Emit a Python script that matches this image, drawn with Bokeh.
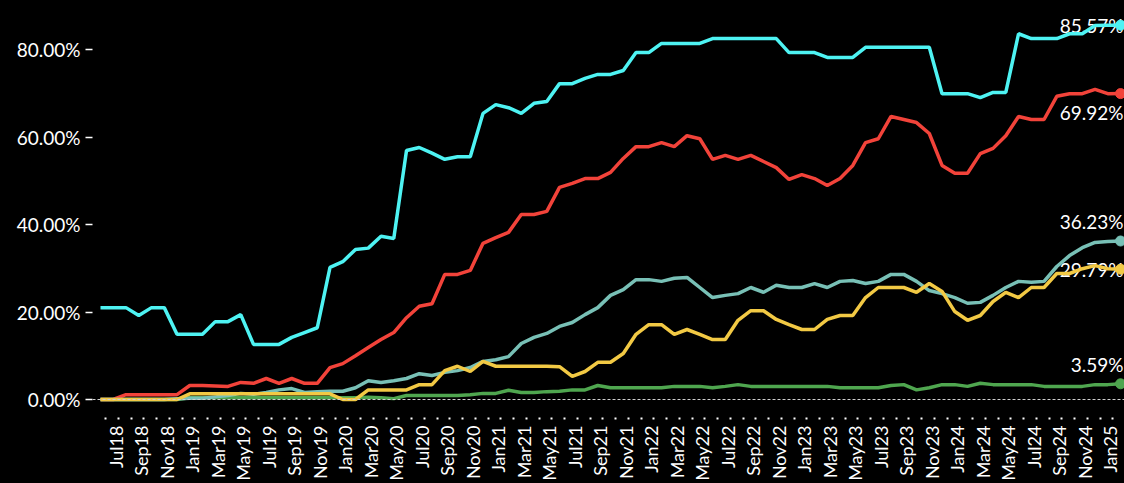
from math import pi
from bokeh.plotting import figure
from bokeh.models import (ColumnDataSource, FixedTicker, PrintfTickFormatter,
                          CustomJSTickFormatter, Span, Range1d)
from bokeh.core.properties import value
from bokeh.embed import file_html
from bokeh.resources import INLINE

months = [
    "Jul18", "Aug18", "Sep18", "Oct18", "Nov18", "Dec18",
    "Jan19", "Feb19", "Mar19", "Apr19", "May19", "Jun19", "Jul19", "Aug19", "Sep19", "Oct19", "Nov19", "Dec19",
    "Jan20", "Feb20", "Mar20", "Apr20", "May20", "Jun20", "Jul20", "Aug20", "Sep20", "Oct20", "Nov20", "Dec20",
    "Jan21", "Feb21", "Mar21", "Apr21", "May21", "Jun21", "Jul21", "Aug21", "Sep21", "Oct21", "Nov21", "Dec21",
    "Jan22", "Feb22", "Mar22", "Apr22", "May22", "Jun22", "Jul22", "Aug22", "Sep22", "Oct22", "Nov22", "Dec22",
    "Jan23", "Feb23", "Mar23", "Apr23", "May23", "Jun23", "Jul23", "Aug23", "Sep23", "Oct23", "Nov23", "Dec23",
    "Jan24", "Feb24", "Mar24", "Apr24", "May24", "Jun24", "Jul24", "Aug24", "Sep24", "Oct24", "Nov24", "Dec24",
    "Jan25", "Feb25", "Mar25",
]

cyan = [
    21.0, 21.0, 21.0, 19.2, 21.0, 21.0,
    14.9, 14.9, 14.9, 17.8, 17.8, 19.4, 12.6, 12.6, 12.6, 14.2, 15.3, 16.4,
    30.2, 31.5, 34.3, 34.6, 37.3, 36.8, 56.9, 57.6, 56.3, 54.9, 55.5, 55.5,
    65.4, 67.4, 66.7, 65.4, 67.7, 68.1, 72.2, 72.2, 73.4, 74.3, 74.3, 75.2,
    79.3, 79.3, 81.4, 81.4, 81.4, 81.4, 82.5, 82.5, 82.5, 82.5, 82.5, 82.5,
    79.3, 79.3, 79.3, 78.2, 78.2, 78.2, 80.5, 80.5, 80.5, 80.5, 80.5, 80.5,
    69.9, 69.9, 69.9, 69.0, 70.2, 70.2, 83.6, 82.5, 82.5, 82.5, 83.6, 83.6,
    85.5, 85.57, 85.57,
]
red = [
    0.0, 0.0, 1.1, 1.1, 1.1, 1.1,
    1.1, 3.2, 3.2, 3.1, 3.0, 3.9, 3.7, 4.8, 3.7, 4.8, 3.7, 3.7,
    7.3, 8.2, 10.0, 11.9, 13.7, 15.3, 18.7, 21.3, 21.9, 28.6, 28.6, 29.5,
    35.7, 37.0, 38.2, 42.3, 42.3, 43.0, 48.5, 49.4, 50.5, 50.5, 51.9, 55.1,
    57.8, 57.8, 58.7, 57.8, 60.3, 59.6, 54.9, 55.8, 54.9, 55.8, 54.4, 53.0,
    50.3, 51.4, 50.5, 48.9, 50.5, 53.5, 58.7, 59.6, 64.7, 64.0, 63.3, 60.8,
    53.5, 51.7, 51.7, 56.2, 57.4, 60.3, 64.7, 64.0, 64.0, 69.3, 69.9, 69.9,
    70.9, 69.9, 69.92,
]
teal = [
    0.0, 0.0, 0.0, 0.0, 0.0, 0.0,
    0.2, 0.3, 0.3, 0.6, 0.9, 1.4, 1.2, 1.6, 2.2, 2.5, 1.6, 1.8,
    1.9, 1.9, 2.7, 4.3, 3.9, 4.3, 4.8, 5.9, 5.5, 6.2, 6.6, 7.3,
    8.7, 9.1, 9.8, 12.8, 14.2, 15.1, 16.7, 17.6, 19.4, 21.0, 23.8, 25.1,
    27.4, 27.4, 27.0, 27.7, 27.9, 25.6, 23.3, 23.8, 24.2, 25.6, 24.5, 26.1,
    25.6, 25.6, 26.5, 25.6, 27.0, 27.2, 26.5, 27.0, 28.6, 28.6, 27.0, 24.9,
    24.2, 23.3, 22.0, 22.2, 23.8, 25.6, 27.0, 26.8, 27.0, 30.4, 32.9, 34.7,
    35.9, 36.1, 36.23,
]
yellow = [
    0.0, 0.0, 0.0, 0.0, 0.0, 0.0,
    0.0, 1.3, 1.3, 1.3, 1.3, 1.3, 1.3, 1.3, 1.3, 1.3, 1.3, 1.3,
    1.3, 0.0, 0.0, 2.2, 2.2, 2.2, 2.2, 3.4, 3.4, 6.6, 7.6, 6.4,
    8.7, 7.6, 7.6, 7.6, 7.6, 7.6, 7.5, 5.3, 6.4, 8.5, 8.5, 10.5,
    14.9, 17.1, 17.1, 14.9, 16.0, 14.9, 13.7, 13.7, 18.1, 20.3, 20.3, 18.3,
    17.1, 16.0, 16.0, 18.3, 19.2, 19.2, 23.3, 25.6, 25.6, 25.6, 24.5, 26.5,
    24.7, 20.1, 18.1, 19.2, 22.4, 24.5, 23.3, 25.6, 25.6, 28.8, 28.8, 29.9,
    30.6, 29.9, 29.79,
]
green = [
    0.0, 0.0, 0.0, 0.0, 0.0, 0.0,
    0.0, 0.4, 0.4, 0.4, 0.4, 0.4, 0.4, 0.4, 0.4, 0.4, 0.4, 0.4,
    0.4, 0.4, 0.4, 0.5, 0.4, 0.2, 0.9, 0.9, 0.9, 0.9, 0.9, 1.1,
    1.4, 1.4, 2.1, 1.6, 1.6, 1.8, 1.9, 2.2, 2.2, 3.2, 2.7, 2.7,
    2.7, 2.7, 2.7, 3.0, 3.0, 3.0, 2.7, 3.0, 3.4, 3.0, 3.0, 3.0,
    3.0, 3.0, 3.0, 3.0, 2.7, 2.7, 2.7, 2.7, 3.2, 3.4, 2.2, 2.7,
    3.4, 3.4, 3.0, 3.7, 3.4, 3.4, 3.4, 3.4, 3.0, 3.0, 3.0, 3.0,
    3.4, 3.4, 3.59,
]

y_ticks = [0, 20, 40, 60, 80]

# drawing order bottom -> top
series = [
    ("green", green, "#4fa64f"),
    ("red", red, "#f2433a"),
    ("teal", teal, "#78c0b6"),
    ("yellow", yellow, "#f2c944"),
    ("cyan", cyan, "#4ef3f3"),
]
# label vertical nudges (px, positive = down)
label_nudge = {"cyan": 0, "red": 19, "teal": -19, "yellow": 0, "green": -19}

FONT = "Lato"
FS = "19px"
LABEL_OFF = 1.18   # label tick offset (months)
DOT_OFF = 0.4      # tick-dot offset (months)

x_idx = list(range(len(months)))

p = figure(width=1124, height=483, output_backend="svg", toolbar_location=None,
           x_range=Range1d(-0.627, 80.31), y_range=Range1d(-4.114, 91.2),
           min_border_left=92, min_border_right=0, min_border_top=0, min_border_bottom=66,
           background_fill_color="black", border_fill_color="black",
           outline_line_color=None)
p.grid.visible = False

# y axis
yax = p.yaxis[0]
yax.ticker = FixedTicker(ticks=y_ticks)
yax.formatter = PrintfTickFormatter(format="%.2f%%")
yax.axis_line_color = None
yax.major_tick_line_color = "white"
yax.major_tick_line_width = 1.5
yax.major_tick_out = 7
yax.major_tick_in = 0
yax.minor_tick_line_color = None
yax.major_label_text_color = "white"
yax.major_label_text_font = FONT
yax.major_label_text_font_size = FS
yax.major_label_standoff = 5

# x axis: labels every 2 months (major), monthly tick dots (minor)
xax = p.xaxis[0]
xax.ticker = FixedTicker(ticks=[i + LABEL_OFF for i in x_idx if i % 2 == 0],
                         minor_ticks=[i + DOT_OFF for i in x_idx])
xax.formatter = CustomJSTickFormatter(args=dict(labels=months, off=LABEL_OFF),
                                      code="return labels[Math.round(tick - off)] || '';")
xax.axis_line_color = None
xax.major_tick_line_color = None
xax.major_tick_out = 0
xax.major_tick_in = 0
xax.minor_tick_line_color = "white"
xax.minor_tick_line_width = 2
xax.minor_tick_out = 2
xax.minor_tick_in = 0
xax.major_label_orientation = pi / 2
xax.major_label_standoff = 6
xax.major_label_text_color = "white"
xax.major_label_text_font = FONT
xax.major_label_text_font_size = "18px"

# zero line
p.add_layout(Span(location=0, dimension="width", line_color="#d0d0d0",
                  line_width=1, line_dash="3 2"))

# end labels
last = len(months) - 1
lab = ColumnDataSource(dict(
    x=[last] * len(series),
    y=[s[1][-1] for s in series],
    txt=["%.2f%%" % s[1][-1] for s in series],
    dy=[label_nudge[s[0]] for s in series],
))
p.text(x="x", y="y", text="txt", source=lab, text_align="right", text_baseline="middle",
       x_offset=3, y_offset="dy", text_color="white", text_font=value(FONT),
       text_font_size=FS)

for name, vals, col in series:
    src = ColumnDataSource(dict(x=x_idx, y=vals))
    p.line("x", "y", source=src, line_color=col, line_width=3.5)
    p.scatter(x=[last], y=[vals[-1]], size=10, color=col)

html = file_html(p, INLINE)
html = html.replace("</head>", "<style>html, body { background-color: #000000; }</style>\n</head>", 1)
open("out.html", "w").write(html)
